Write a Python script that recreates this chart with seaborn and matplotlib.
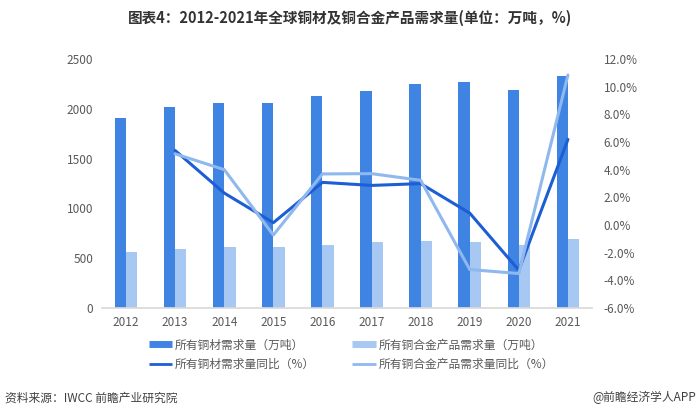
import numpy as np
import pandas as pd
import matplotlib
matplotlib.use("Agg")
import matplotlib.pyplot as plt
from matplotlib.lines import Line2D
from matplotlib.ticker import FuncFormatter, MultipleLocator
import seaborn as sns

years = ["2012", "2013", "2014", "2015", "2016", "2017", "2018", "2019", "2020", "2021"]
copper_demand = [1908, 2012, 2059, 2059, 2123, 2180, 2248, 2264, 2190, 2325]
alloy_demand = [567, 595, 615, 615, 635, 661, 678, 661, 635, 698]
copper_yoy = [np.nan, 5.38, 2.31, 0.17, 3.08, 2.86, 2.99, 0.86, -3.26, 6.18]
alloy_yoy = [np.nan, 5.14, 4.00, -0.72, 3.69, 3.71, 3.23, -3.21, -3.50, 10.83]

s_bar1 = "所有铜材需求量（万吨）"
s_bar2 = "所有铜合金产品需求量（万吨）"
s_line1 = "所有铜材需求量同比（%）"
s_line2 = "所有铜合金产品需求量同比（%）"

c_bar1 = "#3F83E3"
c_bar2 = "#A6C8F3"
c_line1 = "#1E5ED4"
c_line2 = "#8FB8EE"

sns.set_theme(style="white")
plt.rcParams["font.family"] = ["Noto Sans CJK SC", "DejaVu Sans"]

df = pd.DataFrame({
    "year": years * 2,
    "value": copper_demand + alloy_demand,
    "series": [s_bar1] * len(years) + [s_bar2] * len(years),
})

fig = plt.figure(figsize=(7.0, 4.17), dpi=100)
ax = fig.add_axes([0.145, 0.261, 0.7014, 0.598])

sns.barplot(data=df, x="year", y="value", hue="series", ax=ax,
            palette=[c_bar1, c_bar2], width=0.46, gap=0, saturation=1,
            linewidth=0, legend=False)
ax.set_xlim(-0.5, 9.5)
ax.set_ylim(0, 2500)
ax.yaxis.set_major_locator(MultipleLocator(500))
ax.set_xlabel("")
ax.set_ylabel("")
for sp in ["top", "right", "left"]:
    ax.spines[sp].set_visible(False)
ax.spines["bottom"].set_color("#D9D9D9")
ax.tick_params(axis="both", colors="#595959", labelsize=8.5, length=0, pad=6)

ax2 = ax.twinx()
xpos = np.arange(len(years))
sns.lineplot(x=xpos, y=copper_yoy, ax=ax2, color=c_line1, linewidth=2.2)
sns.lineplot(x=xpos, y=alloy_yoy, ax=ax2, color=c_line2, linewidth=2.2)
ax2.set_ylim(-6, 12)
ax2.yaxis.set_major_locator(MultipleLocator(2))
ax2.yaxis.set_major_formatter(FuncFormatter(lambda v, p: f"{v:.1f}%"))
for sp in ["top", "right", "left", "bottom"]:
    ax2.spines[sp].set_visible(False)
ax2.tick_params(axis="y", colors="#595959", labelsize=8.5, length=0, pad=8)
ax2.set_xlim(-0.5, 9.5)

handles = [
    Line2D([0], [0], color=c_bar1, lw=5, solid_capstyle="butt"),
    Line2D([0], [0], color=c_line1, lw=2, solid_capstyle="butt"),
    Line2D([0], [0], color=c_bar2, lw=5, solid_capstyle="butt"),
    Line2D([0], [0], color=c_line2, lw=2, solid_capstyle="butt"),
]
labels = [s_bar1, s_line1, s_bar2, s_line2]
fig.legend(handles, labels, ncol=2, loc="center left", bbox_to_anchor=(0.197, 0.149),
           frameon=False, fontsize=8.5, handlelength=2.0, handletextpad=0.2,
           columnspacing=3.2, labelspacing=0.55, labelcolor="#595959")

fig.text(0.5, 0.957, "图表4：2012-2021年全球铜材及铜合金产品需求量(单位：万吨，%)",
         ha="center", va="center", fontsize=10.5, fontweight="bold", color="#333333")
fig.text(0.007, 0.046, "资料来源：IWCC 前瞻产业研究院", ha="left", va="center",
         fontsize=8.5, color="#404040")
fig.text(0.995, 0.046, "@前瞻经济学人APP", ha="right", va="center",
         fontsize=8.5, color="#404040")

fig.savefig("out.png", dpi=100)
